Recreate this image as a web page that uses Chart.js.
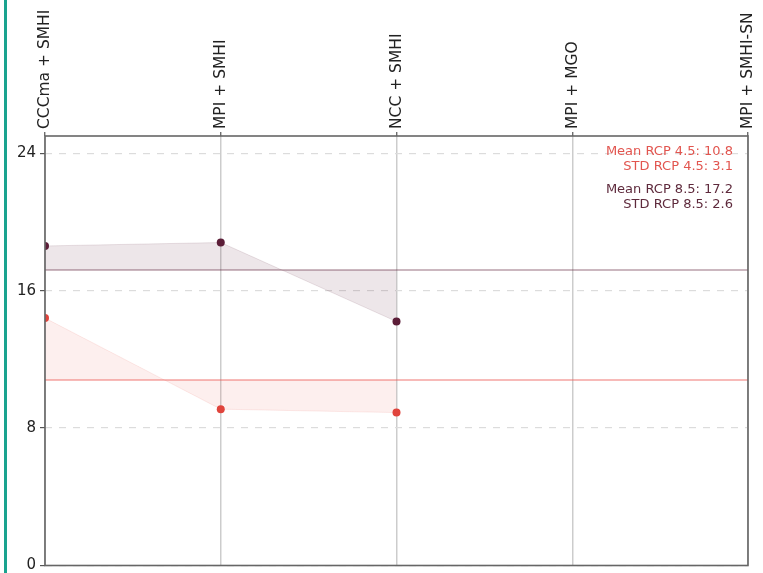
<!DOCTYPE html>
<html>
<head>
<meta charset="utf-8">
<script src="https://cdn.jsdelivr.net/npm/chart.js@4/dist/chart.umd.min.js"></script>
<style>
  html, body { margin: 0; padding: 0; background: #fff; }
  #wrap { position: relative; width: 763px; height: 573px; overflow: hidden; }
  #bar { position: absolute; left: 4px; top: 0; width: 3px; height: 573px; background: #1aa38f; z-index: 1; }
  canvas { position: absolute; left: 0; top: 0; }
</style>
</head>
<body>
<div id="wrap">
  <div id="bar"></div>
  <canvas id="c" width="763" height="577"></canvas>
</div>
<script>
// Model combinations (GCM + RCM)
const models = ['CCCma + SMHI', 'MPI + SMHI', 'NCC + SMHI', 'MPI + MGO', 'MPI + SMHI-SN'];
// Values per scenario (null where no run exists)
const rcp45 = [14.4, 9.1, 8.9, null, null];
const rcp85 = [18.6, 18.8, 14.2, null, null];
const yTicks = [0, 8, 16, 24];

function mean(arr) {
  const v = arr.filter(x => x !== null);
  return v.reduce((a, b) => a + b, 0) / v.length;
}
function std(arr) {
  const v = arr.filter(x => x !== null);
  const m = mean(v);
  return Math.sqrt(v.reduce((a, b) => a + (b - m) * (b - m), 0) / (v.length - 1));
}

const m45 = mean(rcp45), s45 = std(rcp45);
const m85 = mean(rcp85), s85 = std(rcp85);

const DARK = '#5c1e38';
const RED = '#e0443c';
const FONT = 'DejaVu Sans';

// Frame around the plot area plus the summary text block
const framePlugin = {
  id: 'frame',
  afterDatasetsDraw(chart) {
    const { ctx, chartArea: a } = chart;
    ctx.save();
    ctx.strokeStyle = '#666';
    ctx.lineWidth = 1.6;
    ctx.strokeRect(a.left, a.top, a.right - a.left, a.bottom - a.top);

    ctx.font = '13px "' + FONT + '"';
    ctx.textAlign = 'right';
    ctx.textBaseline = 'middle';
    const x = a.right - 15;
    ctx.fillStyle = '#e2554f';
    ctx.fillText('Mean RCP 4.5: ' + m45.toFixed(1), x, a.top + 16);
    ctx.fillText('STD RCP 4.5: ' + s45.toFixed(1), x, a.top + 31);
    ctx.fillStyle = '#5e2a3c';
    ctx.fillText('Mean RCP 8.5: ' + m85.toFixed(1), x, a.top + 54);
    ctx.fillText('STD RCP 8.5: ' + s85.toFixed(1), x, a.top + 69);
    ctx.restore();
  }
};

new Chart(document.getElementById('c'), {
  type: 'line',
  data: {
    labels: models,
    datasets: [
      {
        label: 'RCP 8.5',
        data: rcp85,
        fill: { value: m85 },
        backgroundColor: 'rgba(92,30,56,0.11)',
        borderColor: 'rgba(92,30,56,0.12)',
        borderWidth: 1,
        pointRadius: 4,
        pointBorderWidth: 0,
        pointBackgroundColor: DARK,
        tension: 0,
        clip: 0,
        order: 2
      },
      {
        label: 'RCP 4.5',
        data: rcp45,
        fill: { value: m45 },
        backgroundColor: 'rgba(230,70,60,0.085)',
        borderColor: 'rgba(230,70,60,0.1)',
        borderWidth: 1,
        pointRadius: 4,
        pointBorderWidth: 0,
        pointBackgroundColor: RED,
        tension: 0,
        clip: 0,
        order: 2
      },
      {
        label: 'Mean RCP 8.5',
        data: models.map(() => m85),
        fill: false,
        borderColor: 'rgba(92,30,56,0.32)',
        borderWidth: 2,
        pointRadius: 0,
        clip: 0,
        order: 1
      },
      {
        label: 'Mean RCP 4.5',
        data: models.map(() => m45),
        fill: false,
        borderColor: 'rgba(235,90,85,0.42)',
        borderWidth: 2,
        pointRadius: 0,
        clip: 0,
        order: 1
      }
    ]
  },
  options: {
    responsive: false,
    animation: false,
    events: [],
    layout: { padding: { left: 0, right: 15, top: 0, bottom: 0 } },
    plugins: { legend: { display: false }, tooltip: { enabled: false } },
    scales: {
      x: {
        type: 'category',
        position: 'top',
        offset: false,
        grid: {
          color: 'rgba(0,0,0,0.2)',
          lineWidth: 1.5,
          tickColor: '#555',
          tickLength: 4,
          tickWidth: 1.2
        },
        border: { display: false },
        ticks: {
          minRotation: 90,
          maxRotation: 90,
          autoSkip: false,
          padding: 3,
          labelOffset: 19,
          color: '#222',
          font: { family: FONT, size: 15.5 }
        },
        afterFit(s) { s.height = 136; }
      },
      y: {
        min: 0,
        max: 25,
        afterBuildTicks(s) { s.ticks = yTicks.map(v => ({ value: v })); },
        grid: {
          color: '#dcdcdc',
          lineWidth: 1.2,
          tickColor: '#555',
          tickLength: 5,
          tickWidth: 1.2
        },
        border: { display: false, dash: [7, 7] },
        ticks: {
          padding: 4,
          color: '#222',
          font: { family: FONT, size: 15, lineHeight: 1 }
        },
        afterFit(s) { s.width = 45; }
      }
    }
  },
  plugins: [framePlugin]
});
</script>
</body>
</html>
